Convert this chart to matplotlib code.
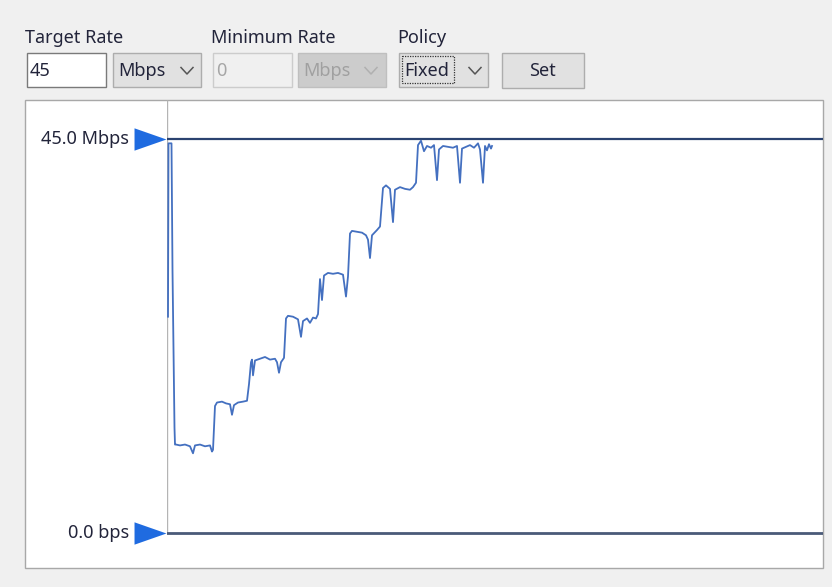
import numpy as np
import matplotlib.pyplot as plt
from matplotlib.patches import Rectangle
from matplotlib.transforms import offset_copy

plt.rcParams['font.family'] = ['Noto Sans', 'DejaVu Sans']

# measured rate, Mbps, against sample index (one sample per screen column)
t = [1, 1.5, 4.5, 5.5, 7.5, 8, 9, 13, 18, 23, 26, 28, 33, 38, 43, 45, 46,
     48, 50, 55, 59, 63, 65, 67, 71, 76, 80, 82, 84, 85, 86, 88, 93, 98, 103,
     108, 110, 112, 114, 117, 119, 121, 126, 131, 134, 136, 140, 143, 146,
     149, 151, 153, 155, 157, 161, 166, 171, 176, 179, 181, 183, 185, 190,
     195, 199, 201, 203, 205, 210, 213, 216, 219, 223, 226, 228, 233, 238,
     243, 246, 249, 251, 254, 257, 260, 264, 267, 270, 272, 276, 281, 286,
     290, 293, 295, 299, 303, 307, 311, 313, 316, 318, 320, 322, 324, 325]
rate = [24.7, 44.5, 44.5, 30.0, 12.0, 10.1, 10.1, 10.0, 10.1, 9.9, 9.1, 10.0,
        10.1, 9.9, 10.0, 9.3, 9.5, 14.5, 14.9, 15.0, 14.8, 14.7, 13.5, 14.6,
        14.9, 15.0, 15.1, 17.0, 19.5, 19.8, 18.0, 19.7, 19.9, 20.1, 19.8, 19.9,
        19.5, 18.3, 19.5, 20.0, 24.5, 24.8, 24.7, 24.4, 22.4, 24.2, 24.5, 24.0,
        24.6, 24.5, 25.0, 29.0, 26.6, 29.4, 29.7, 29.6, 29.7, 29.5, 27.0, 29.3,
        34.2, 34.5, 34.4, 34.3, 34.0, 33.5, 31.4, 34.0, 34.6, 35.0, 39.4, 39.7,
        39.3, 35.5, 39.2, 39.5, 39.3, 39.2, 39.5, 40.0, 44.3, 44.8, 43.6, 44.2,
        44.0, 44.3, 40.3, 43.8, 44.2, 44.1, 44.0, 44.2, 40.0, 43.9, 44.1, 44.3,
        44.0, 44.5, 43.8, 40.0, 44.2, 43.7, 44.4, 43.9, 44.2]

target = 45.0
minimum = 0.0
window = 656
y_lo, y_hi = -4.0, 49.45

W, H = 832, 587
fig = plt.figure(figsize=(W / 100, H / 100), dpi=100, facecolor='#f0f0f0')

# widgets / panel chrome, drawn in pixel coords
ui = fig.add_axes([0, 0, 1, 1], zorder=0)
ui.set_xlim(0, W)
ui.set_ylim(H, 0)
ui.axis('off')

def box(x0, y0, x1, y1, fc, ec, lw=1.0, ls='-'):
    ui.add_patch(Rectangle((x0, y0), x1 - x0, y1 - y0, facecolor=fc,
                           edgecolor=ec, linewidth=lw, linestyle=ls))

def chevron(x, y, color):
    ui.plot([x - 6, x, x + 6], [y - 3.5, y + 3, y - 3.5], color=color, lw=1.1)

fs = 13
ink = '#22243a'
ui.text(25, 38, 'Target Rate', fontsize=fs, va='center', color=ink)
ui.text(211, 38, 'Minimum Rate', fontsize=fs, va='center', color=ink)
ui.text(397, 38, 'Policy', fontsize=fs, va='center', color=ink)

box(27, 53, 106, 87, 'white', '#7a7a7a')
ui.text(30, 71, '45', fontsize=fs, va='center', color=ink)

box(113, 53, 201, 87, '#e1e1e1', '#adadad')
ui.text(118, 71, 'Mbps', fontsize=fs, va='center', color=ink)
chevron(187, 71, '#555555')

box(213, 53, 292, 87, '#f0f0f0', '#cccccc')
ui.text(216, 71, '0', fontsize=fs, va='center', color='#a6a6a6')

box(298, 53, 386, 87, '#cccccc', '#bfbfbf')
ui.text(303, 71, 'Mbps', fontsize=fs, va='center', color='#a0a0a0')
chevron(371, 71, '#b0b0b0')

box(399, 53, 488, 87, '#e1e1e1', '#adadad')
box(402, 56, 454, 83, 'none', '#333333', lw=0.9, ls=(0, (1, 1)))
ui.text(404, 71, 'Fixed', fontsize=fs, va='center', color=ink)
chevron(475, 71, '#555555')

box(502, 53, 584, 88, '#e1e1e1', '#adadad')
ui.text(542, 71, 'Set', fontsize=fs, va='center', ha='center', color=ink)

# chart panel
box(25, 100, 823, 568, 'white', '#a8a8a8')

# data axes
px0, px1, py0, py1 = 167, 823, 100, 568
ax = fig.add_axes([px0 / W, 1 - py1 / H, (px1 - px0) / W, (py1 - py0) / H],
                  zorder=1)
ax.set_facecolor('none')
ax.set_xlim(0, window)
ax.set_ylim(y_lo, y_hi)
ax.axis('off')

ax.vlines(0, minimum, y_hi, color='#b4b4b4', lw=1.0)
ax.axhline(target, color='#2b4370', lw=1.6)
ax.axhline(minimum, color='#4a5a78', lw=2.0)
ax.plot(t, rate, color='#4470c0', lw=1.3, solid_joinstyle='round')

tri = [(-1, -0.7), (1, 0), (-1, 0.7)]
mk_tr = offset_copy(ax.transData, fig=fig, x=-17, y=0, units='dots')
for val, lab in [(target, '45.0 Mbps'), (minimum, '0.0 bps')]:
    ax.plot([0], [val], marker=tri, markersize=23, color='#1f6be0', mec='none',
            transform=mk_tr, clip_on=False)
    ax.annotate(lab, xy=(0, val), xycoords=('axes fraction', 'data'),
                xytext=(-38, 0), textcoords='offset pixels', ha='right',
                va='center', fontsize=fs, color=ink)

fig.savefig('out.png', dpi=100, facecolor=fig.get_facecolor())
